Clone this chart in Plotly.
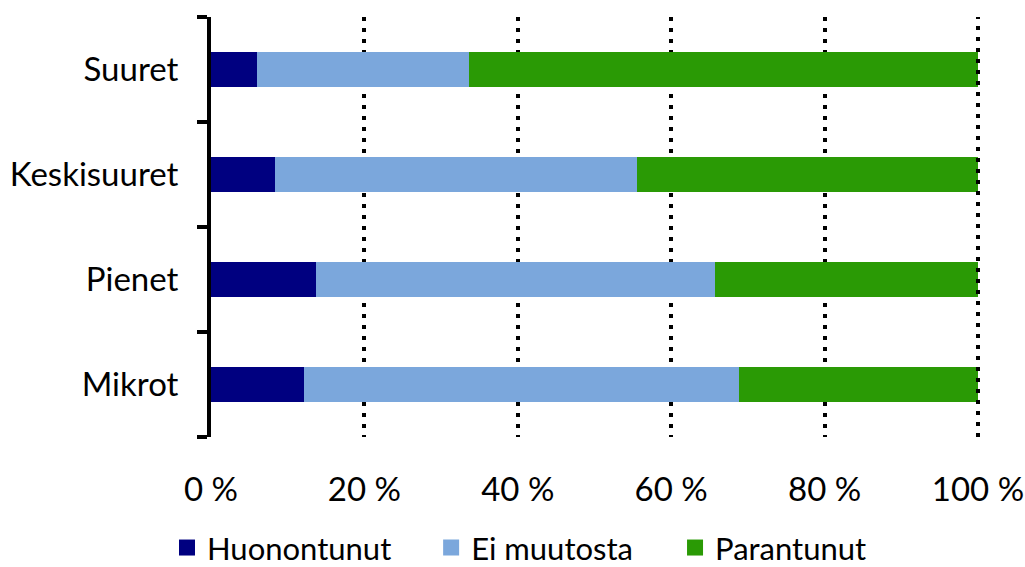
import plotly.graph_objects as go

categories = ["Mikrot", "Pienet", "Keskisuuret", "Suuret"]
series_names = ["Huonontunut", "Ei muutosta", "Parantunut"]
huonontunut = [12.1, 13.7, 8.3, 6.0]
ei_muutosta = [56.7, 52.0, 47.2, 27.6]
parantunut = [31.2, 34.3, 44.5, 66.4]
colors = ["#000080", "#7BA7DC", "#2A9A05"]
x_ticks = [0, 20, 40, 60, 80, 100]
x_tick_text = ["0 %", "20 %", "40 %", "60 %", "80 %", "100 %"]

FONT = "Lato"
values = [huonontunut, ei_muutosta, parantunut]
legend_ids = ["legend", "legend2", "legend3"]
legend_x = [-0.0574, 0.2870, 0.6050]

fig = go.Figure()
for name, vals, col in zip(series_names, values, colors):
    fig.add_trace(go.Bar(
        y=categories, x=vals, name=name, orientation="h",
        marker=dict(color=col, line=dict(width=0)),
        showlegend=False,
    ))
# legend entries with larger square symbols, one legend box per entry
for name, col, lid in zip(series_names, colors, legend_ids):
    fig.add_trace(go.Scatter(
        x=[None], y=[None], mode="markers", name=name, legend=lid,
        marker=dict(symbol="square", size=20, color=col),
    ))

# gridline at the right edge (100 %), which plotly omits at the range boundary
fig.add_shape(type="line", xref="paper", yref="paper", x0=1, x1=1, y0=0, y1=1,
              line=dict(color="black", width=4, dash="4px,7px"), layer="above")

legend_common = dict(
    orientation="h", xanchor="left", y=-0.264, yanchor="middle",
    font=dict(family=FONT, size=31, color="black"),
    bgcolor="rgba(0,0,0,0)", borderwidth=0,
)

fig.update_layout(
    barmode="stack",
    bargap=0.667,
    width=1025, height=567,
    margin=dict(l=211, r=47, t=17, b=130, autoexpand=False),
    plot_bgcolor="white", paper_bgcolor="white",
    font=dict(family=FONT, size=33, color="black"),
    legend=dict(x=legend_x[0], **legend_common),
    legend2=dict(x=legend_x[1], **legend_common),
    legend3=dict(x=legend_x[2], **legend_common),
    xaxis=dict(
        range=[0, 100], tickvals=x_ticks, ticktext=x_tick_text,
        showgrid=True, gridcolor="black", gridwidth=4, griddash="4px,7px",
        zeroline=False, showline=False, automargin=False,
        ticks="outside", ticklen=23, tickcolor="rgba(0,0,0,0)",
        fixedrange=True,
    ),
    yaxis=dict(
        type="category", categoryorder="array", categoryarray=categories,
        showline=True, linecolor="black", linewidth=4, automargin=False,
        ticks="outside", tickson="boundaries", ticklen=10, tickwidth=4, tickcolor="black",
        showgrid=False, zeroline=False,
        ticklabelstandoff=22, fixedrange=True,
    ),
)

fig.write_html("out.html", config={"displayModeBar": False},
               post_script="document.body.style.margin='0';document.body.style.overflow='hidden';")
